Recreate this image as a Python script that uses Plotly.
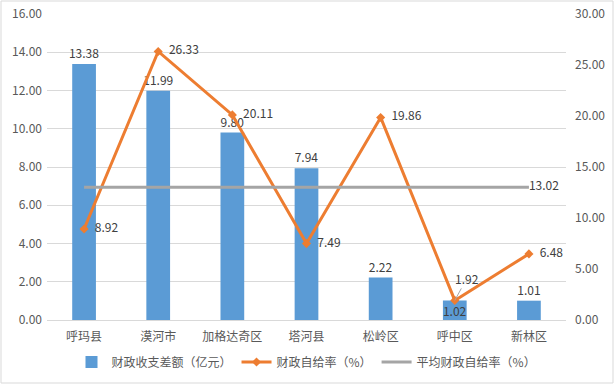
import plotly.graph_objects as go

categories = ["呼玛县", "漠河市", "加格达奇区", "塔河县", "松岭区", "呼中区", "新林区"]
gap_values = [13.38, 11.99, 9.80, 7.94, 2.22, 1.02, 1.01]
rate_values = [8.92, 26.33, 20.11, 7.49, 19.86, 1.92, 6.48]
avg_rate = [13.02] * 7
left_ticks = [0, 2, 4, 6, 8, 10, 12, 14, 16]
right_ticks = [0, 5, 10, 15, 20, 25, 30]

FONT = "Noto Sans CJK SC, Microsoft YaHei, sans-serif"
TXT = "#404040"
W, H = 614, 384
ML, MR, MT, MB = 47, 48, 14, 64

fig = go.Figure()

bar_pos = ["outside"] * 7
bar_pos[5] = "inside"
fig.add_trace(go.Bar(
    x=categories, y=gap_values, name="财政收支差额（亿元）",
    marker=dict(color="#5B9BD5", line=dict(width=0)),
    width=0.32,
    text=[f"{v:.2f}" for v in gap_values],
    textposition=bar_pos, insidetextanchor="middle",
    constraintext="none",
    textfont=dict(size=12, color=TXT, family=FONT),
    insidetextfont=dict(size=12, color=TXT, family=FONT),
    outsidetextfont=dict(size=12, color=TXT, family=FONT),
    cliponaxis=False,
))

NB = "\u00a0\u00a0"
rate_text = [NB + f"{v:.2f}" for v in rate_values]
rate_text[5] = ""
fig.add_trace(go.Scatter(
    x=categories, y=rate_values, name="财政自给率（%）", yaxis="y2",
    mode="lines+markers+text",
    line=dict(color="#ED7D31", width=3),
    marker=dict(symbol="diamond", size=7, color="#ED7D31"),
    text=rate_text, textposition="middle right",
    textfont=dict(size=12, color=TXT, family=FONT),
    cliponaxis=False,
))

avg_text = [""] * 6 + [f"{avg_rate[-1]:.2f}"]
fig.add_trace(go.Scatter(
    x=categories, y=avg_rate, name="平均财政自给率（%）", yaxis="y2",
    mode="lines+text",
    line=dict(color="#A5A5A5", width=3),
    text=avg_text, textposition="middle right",
    textfont=dict(size=12, color=TXT, family=FONT),
    cliponaxis=False,
))

fig.add_annotation(
    x=categories[5], y=rate_values[5], yref="y2",
    text=f"{rate_values[5]:.2f}", showarrow=True, arrowhead=0,
    arrowcolor="#A5A5A5", arrowwidth=1, ax=12, ay=-22,
    font=dict(size=12, color=TXT, family=FONT),
)

pw = W - ML - MR
ph = H - MT - MB
fig.add_shape(type="rect", xref="paper", yref="paper",
              x0=-(ML - 1) / pw, x1=1 + (MR - 1) / pw,
              y0=-(MB - 1) / ph, y1=1 + (MT - 1) / ph,
              line=dict(color="#D9D9D9", width=1), layer="below")

fig.update_layout(
    width=W, height=H,
    margin=dict(l=ML, r=MR, t=MT, b=MB, autoexpand=False),
    paper_bgcolor="white", plot_bgcolor="white",
    font=dict(family=FONT, size=12, color="#595959"),
    bargap=0.68,
    showlegend=True,
    legend=dict(orientation="h", x=0.5, xanchor="center",
                y=(320 - 362) / ph, yanchor="middle",
                font=dict(size=12, color="#595959", family=FONT),
                itemwidth=30, tracegroupgap=0),
    xaxis=dict(type="category", range=[-0.5, 6.5], showgrid=False,
               showline=True, linecolor="#D9D9D9", linewidth=1, ticks="",
               ticklabelstandoff=6,
               tickfont=dict(size=12, color="#595959"), fixedrange=True),
    yaxis=dict(range=[0, 16], tickvals=left_ticks,
               ticktext=[f"{v:.2f}" for v in left_ticks],
               showgrid=True, gridcolor="#D9D9D9", gridwidth=1,
               zeroline=False, showline=False, ticks="",
               ticklabelstandoff=4,
               tickfont=dict(size=12, color="#595959")),
    yaxis2=dict(range=[0, 30], tickvals=right_ticks,
                ticktext=[f"{v:.2f}" for v in right_ticks],
                overlaying="y", side="right", showgrid=False,
                zeroline=False, showline=False, ticks="",
                ticklabelstandoff=8,
                tickfont=dict(size=12, color="#595959")),
)

fig.write_html("out.html", config={"displayModeBar": False},
               post_script="document.body.style.margin='0';document.body.style.overflow='hidden';")
